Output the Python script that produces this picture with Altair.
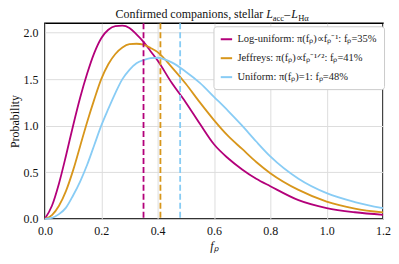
import altair as alt
import pandas as pd

xs = [0.0, 0.025, 0.05, 0.075, 0.1, 0.125, 0.15, 0.175, 0.2, 0.225, 0.25, 0.275, 0.3, 0.325,
      0.35, 0.375, 0.4, 0.45, 0.5, 0.55, 0.6, 0.65, 0.7, 0.75, 0.8, 0.9, 1.0, 1.1, 1.2]
log_uniform = [0.0, 0.14, 0.38, 0.68, 1.0, 1.3, 1.56, 1.78, 1.94, 2.03, 2.07, 2.075, 2.05, 1.98,
               1.90, 1.80, 1.70, 1.46, 1.25, 1.02, 0.80, 0.65, 0.53, 0.43, 0.35, 0.20, 0.115,
               0.07, 0.043]
jeffreys = [0.0, 0.04, 0.14, 0.3, 0.52, 0.78, 1.04, 1.28, 1.50, 1.66, 1.77, 1.84, 1.875, 1.88,
            1.87, 1.835, 1.79, 1.63, 1.45, 1.25, 1.06, 0.89, 0.75, 0.61, 0.49, 0.31, 0.185,
            0.11, 0.068]
uniform = [0.0, 0.01, 0.05, 0.12, 0.25, 0.40, 0.58, 0.79, 1.0, 1.18, 1.35, 1.50, 1.60, 1.67,
           1.705, 1.725, 1.73, 1.68, 1.58, 1.46, 1.31, 1.16, 1.00, 0.83, 0.67, 0.43, 0.275,
           0.18, 0.114]
labels = ["Log-uniform: π(fₚ)∝fₚ⁻¹: fₚ=35%",
          "Jeffreys: π(fₚ)∝fₚ⁻¹ᐟ²: fₚ=41%",
          "Uniform: π(fₚ)=1: fₚ=48%"]
medians = [0.35, 0.41, 0.48]
colors = ["#b3007a", "#d8961b", "#88ccf5"]

rows = []
for lab, ys in zip(labels, [log_uniform, jeffreys, uniform]):
    for x, y in zip(xs, ys):
        rows.append({"fp": x, "prob": y, "prior": lab})
df = pd.DataFrame(rows)
med_df = pd.DataFrame({"fp": medians, "prior": labels})

FONT = "Liberation Serif, Times New Roman, serif"
xscale = alt.Scale(domain=[0, 1.2], nice=False)
yscale = alt.Scale(domain=[0, 2.1], nice=False)
cscale = alt.Scale(domain=labels, range=colors)

lines = alt.Chart(df).mark_line(strokeWidth=1.8, interpolate="monotone").encode(
    x=alt.X("fp:Q", scale=xscale,
            axis=alt.Axis(values=[0, 0.2, 0.4, 0.6, 0.8, 1.0, 1.2], format=".1f",
                          labelFlush=False, labelFont=FONT, titleFont=FONT,
                          title="fₚ", titleFontStyle="italic", titleFontWeight="normal",
                          titleFontSize=12, titlePadding=4)),
    y=alt.Y("prob:Q", scale=yscale,
            axis=alt.Axis(values=[0, 0.5, 1.0, 1.5, 2.0], format=".1f",
                          labelFlush=False, labelFont=FONT, titleFont=FONT,
                          title="Probability", titleFontWeight="normal",
                          titleFontSize=12, titlePadding=1, labelPadding=7)),
    color=alt.Color("prior:N", scale=cscale,
                    legend=alt.Legend(title=None, orient="none", legendX=169, legendY=3,
                                      symbolType="stroke", symbolStrokeWidth=2,
                                      symbolSize=130, labelFont=FONT, labelFontSize=10.5,
                                      labelColor="#222", fillColor="white",
                                      strokeColor="#cccccc", cornerRadius=3, padding=6,
                                      rowPadding=6, labelLimit=300)),
)

rules = alt.Chart(med_df).mark_rule(strokeWidth=1.8, strokeDash=[6, 3]).encode(
    x=alt.X("fp:Q", scale=xscale),
    y=alt.value(0),
    y2=alt.value(196),
    color=alt.Color("prior:N", scale=cscale, legend=None),
)

one = pd.DataFrame({"a": [0]})
def txt(s, x, y, size=12, style="normal", align="left"):
    return alt.Chart(one).mark_text(text=s, font=FONT, fontSize=size, fontStyle=style,
                                    align=align, baseline="alphabetic", color="#111").encode(
        x=alt.value(x), y=alt.value(y))

title = (txt("Confirmed companions, stellar", 219, -5, align="right")
         + txt("L", 222, -5, style="italic")
         + txt("acc", 228.5, -2.5, size=8.5)
         + txt("–", 240, -5)
         + txt("L", 247, -5, style="italic")
         + txt("Hα", 254, -2.5, size=8.5))

chart = alt.layer(lines, rules, title).properties(
    width=339, height=196,
    autosize=alt.AutoSizeParams(type="none"),
    padding={"left": 37, "top": 15, "right": 8, "bottom": 40},
).configure(font=FONT).configure_view(stroke="black", strokeWidth=1.5).configure_axis(
    labelFont=FONT, titleFont=FONT, labelFontSize=12, labelColor="#111", titleColor="#111",
    ticks=False, labelPadding=7, domain=False, gridColor="#dddddd", gridWidth=1,
)

chart.save("out.html", embed_options={"renderer": "svg", "actions": False})
